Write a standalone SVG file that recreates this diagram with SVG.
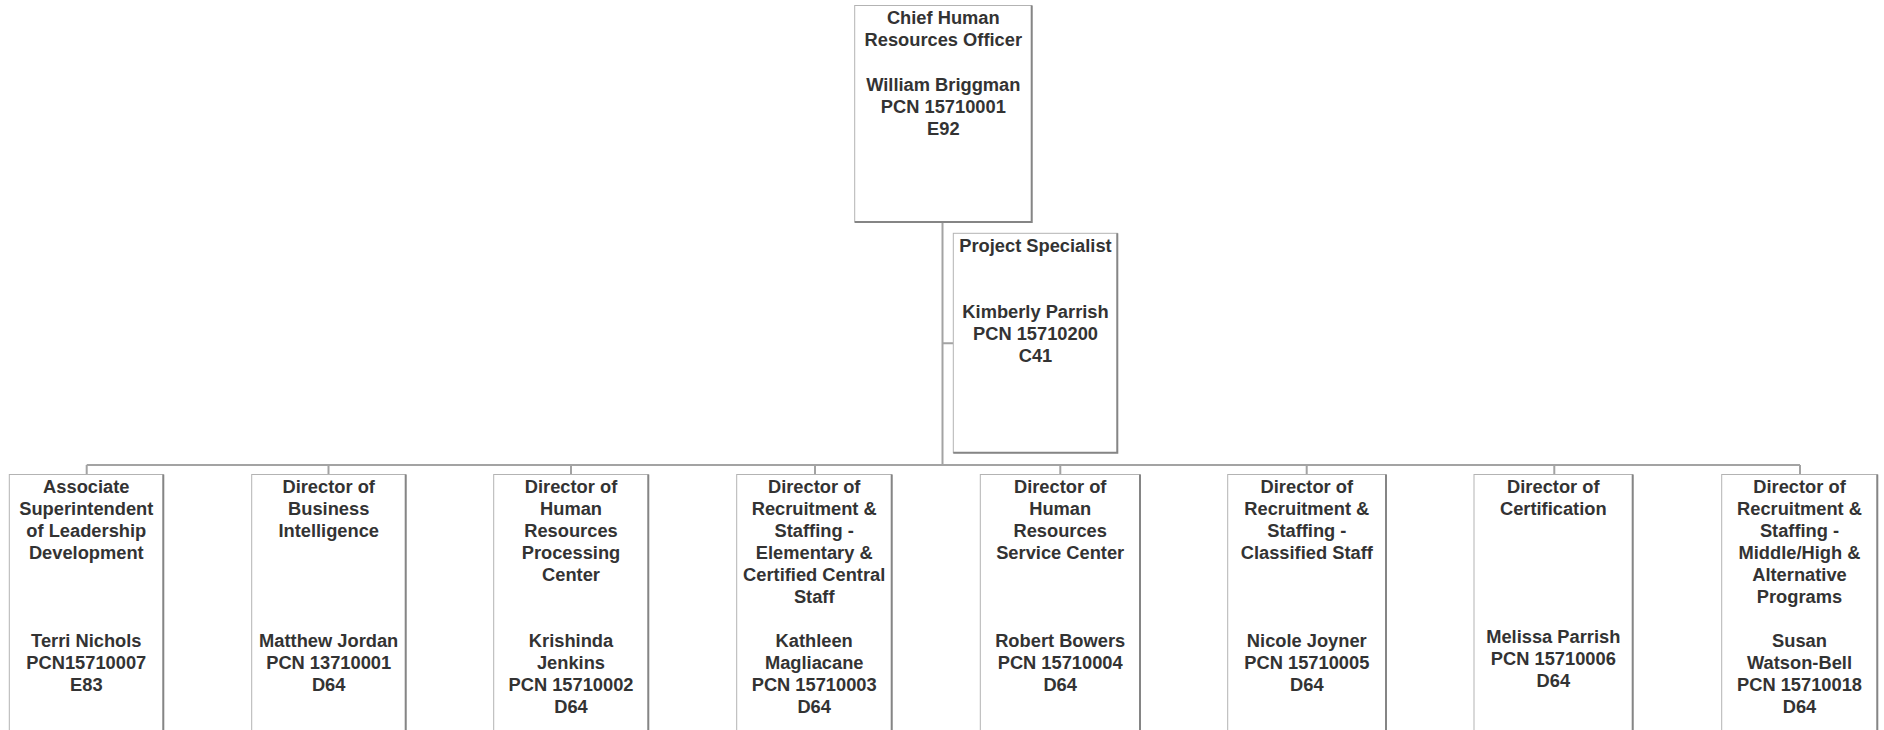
<svg xmlns="http://www.w3.org/2000/svg" width="1884" height="730" viewBox="0 0 1884 730">
<style>
.box{fill:#fff;stroke:#b3b3b3;stroke-width:1}
.sh{fill:none;stroke:#858585;stroke-width:2}
.t{font-family:"Liberation Sans",Arial,sans-serif;font-weight:bold;font-size:18.3px;fill:#333;text-anchor:middle}
.c{fill:none;stroke:#a3a3a3;stroke-width:2}
</style>
<rect width="1884" height="730" fill="#fff"/>
<g id="connectors">
<path class="c" d="M942.5,222 V465 M942.5,343.3 H953.3 M86.7,465 H1800 M86.7,465 V474.5 M328.5,465 V474.5 M571,465 V474.5 M815,465 V474.5 M1060.3,465 V474.5 M1306.7,465 V474.5 M1554.3,465 V474.5 M1800,465 V474.5"/>
</g>
<g id="chro">
<rect class="box" x="854.7" y="5.5" width="177" height="216.5"/>
<path class="sh" d="M1031.7,5.5 V222 H854.7"/>
<text class="t" x="943.3" y="24.3">Chief Human</text>
<text class="t" x="943.3" y="46.3">Resources Officer</text>
<text class="t" x="943.3" y="90.5">William Briggman</text>
<text class="t" x="943.3" y="112.5">PCN 15710001</text>
<text class="t" x="943.3" y="134.5">E92</text>
</g>
<g id="project-specialist">
<rect class="box" x="953.3" y="233.3" width="164" height="219.4"/>
<path class="sh" d="M1117.3,233.3 V452.7 H953.3"/>
<text class="t" x="1035.5" y="251.5">Project Specialist</text>
<text class="t" x="1035.5" y="317.5">Kimberly Parrish</text>
<text class="t" x="1035.5" y="339.5">PCN 15710200</text>
<text class="t" x="1035.5" y="361.5">C41</text>
</g>
<g id="assoc-supt">
<rect class="box" x="9.3" y="474.5" width="154" height="270"/>
<path class="sh" d="M163.3,474.5 V744.5"/>
<text class="t" x="86.3" y="493.2">Associate</text>
<text class="t" x="86.3" y="515.2">Superintendent</text>
<text class="t" x="86.3" y="537.2">of Leadership</text>
<text class="t" x="86.3" y="559.2">Development</text>
<text class="t" x="86.3" y="647.2">Terri Nichols</text>
<text class="t" x="86.3" y="669.2">PCN15710007</text>
<text class="t" x="86.3" y="691.2">E83</text>
</g>
<g id="dir-bi">
<rect class="box" x="251.7" y="474.5" width="154" height="270"/>
<path class="sh" d="M405.7,474.5 V744.5"/>
<text class="t" x="328.7" y="493.2">Director of</text>
<text class="t" x="328.7" y="515.2">Business</text>
<text class="t" x="328.7" y="537.2">Intelligence</text>
<text class="t" x="328.7" y="647.2">Matthew Jordan</text>
<text class="t" x="328.7" y="669.2">PCN 13710001</text>
<text class="t" x="328.7" y="691.2">D64</text>
</g>
<g id="dir-hrpc">
<rect class="box" x="493.7" y="474.5" width="154.6" height="270"/>
<path class="sh" d="M648.3,474.5 V744.5"/>
<text class="t" x="571" y="493.2">Director of</text>
<text class="t" x="571" y="515.2">Human</text>
<text class="t" x="571" y="537.2">Resources</text>
<text class="t" x="571" y="559.2">Processing</text>
<text class="t" x="571" y="581.2">Center</text>
<text class="t" x="571" y="647.2">Krishinda</text>
<text class="t" x="571" y="669.2">Jenkins</text>
<text class="t" x="571" y="691.2">PCN 15710002</text>
<text class="t" x="571" y="713.2">D64</text>
</g>
<g id="dir-rs-elem">
<rect class="box" x="736.7" y="474.5" width="155" height="270"/>
<path class="sh" d="M891.7,474.5 V744.5"/>
<text class="t" x="814.2" y="493.2">Director of</text>
<text class="t" x="814.2" y="515.2">Recruitment &amp;</text>
<text class="t" x="814.2" y="537.2">Staffing -</text>
<text class="t" x="814.2" y="559.2">Elementary &amp;</text>
<text class="t" x="814.2" y="581.2">Certified Central</text>
<text class="t" x="814.2" y="603.2">Staff</text>
<text class="t" x="814.2" y="647.2">Kathleen</text>
<text class="t" x="814.2" y="669.2">Magliacane</text>
<text class="t" x="814.2" y="691.2">PCN 15710003</text>
<text class="t" x="814.2" y="713.2">D64</text>
</g>
<g id="dir-hrsc">
<rect class="box" x="980.3" y="474.5" width="159.7" height="270"/>
<path class="sh" d="M1140,474.5 V744.5"/>
<text class="t" x="1060.2" y="493.2">Director of</text>
<text class="t" x="1060.2" y="515.2">Human</text>
<text class="t" x="1060.2" y="537.2">Resources</text>
<text class="t" x="1060.2" y="559.2">Service Center</text>
<text class="t" x="1060.2" y="647.2">Robert Bowers</text>
<text class="t" x="1060.2" y="669.2">PCN 15710004</text>
<text class="t" x="1060.2" y="691.2">D64</text>
</g>
<g id="dir-rs-classified">
<rect class="box" x="1227.7" y="474.5" width="158.3" height="270"/>
<path class="sh" d="M1386,474.5 V744.5"/>
<text class="t" x="1306.8" y="493.2">Director of</text>
<text class="t" x="1306.8" y="515.2">Recruitment &amp;</text>
<text class="t" x="1306.8" y="537.2">Staffing -</text>
<text class="t" x="1306.8" y="559.2">Classified Staff</text>
<text class="t" x="1306.8" y="647.2">Nicole Joyner</text>
<text class="t" x="1306.8" y="669.2">PCN 15710005</text>
<text class="t" x="1306.8" y="691.2">D64</text>
</g>
<g id="dir-cert">
<rect class="box" x="1474" y="474.5" width="158.7" height="270"/>
<path class="sh" d="M1632.7,474.5 V744.5"/>
<text class="t" x="1553.3" y="493.2">Director of</text>
<text class="t" x="1553.3" y="515.2">Certification</text>
<text class="t" x="1553.3" y="642.5">Melissa Parrish</text>
<text class="t" x="1553.3" y="664.5">PCN 15710006</text>
<text class="t" x="1553.3" y="686.5">D64</text>
</g>
<g id="dir-rs-mh">
<rect class="box" x="1721.7" y="474.5" width="155.6" height="270"/>
<path class="sh" d="M1877.3,474.5 V744.5"/>
<text class="t" x="1799.5" y="493.2">Director of</text>
<text class="t" x="1799.5" y="515.2">Recruitment &amp;</text>
<text class="t" x="1799.5" y="537.2">Staffing -</text>
<text class="t" x="1799.5" y="559.2">Middle/High &amp;</text>
<text class="t" x="1799.5" y="581.2">Alternative</text>
<text class="t" x="1799.5" y="603.2">Programs</text>
<text class="t" x="1799.5" y="647.2">Susan</text>
<text class="t" x="1799.5" y="669.2">Watson-Bell</text>
<text class="t" x="1799.5" y="691.2">PCN 15710018</text>
<text class="t" x="1799.5" y="713.2">D64</text>
</g>
</svg>
